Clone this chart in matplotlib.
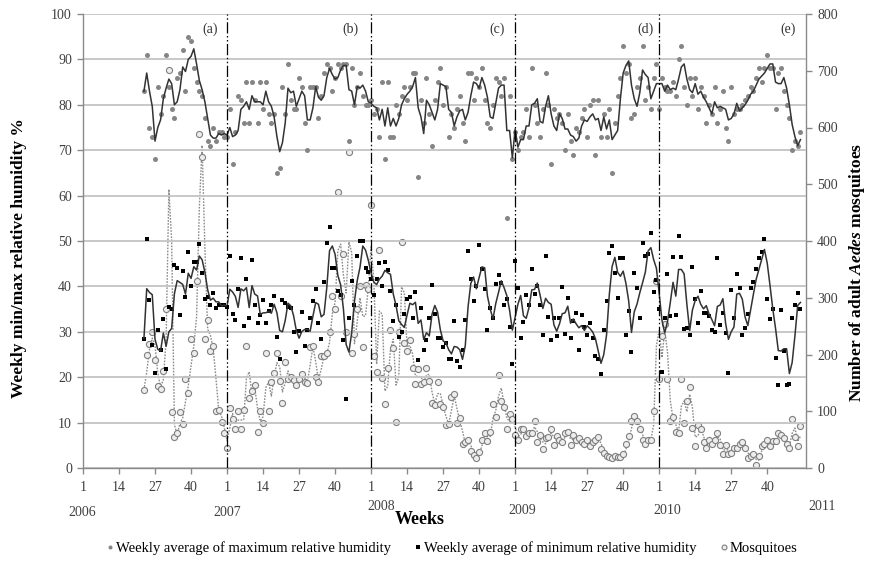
import numpy as np
import pandas as pd
import matplotlib
matplotlib.use("Agg")
import matplotlib.pyplot as plt

plt.rcParams['font.family'] = ['Liberation Serif', 'DejaVu Serif']
plt.rcParams['mathtext.fontset'] = 'custom'
plt.rcParams['mathtext.bfit'] = 'Liberation Serif:bold:italic'
plt.rcParams['mathtext.rm'] = 'Liberation Serif'

# weekly average of maximum relative humidity (%), first value is week 23 of 2006
max_2006 = [83, 91, 75, 73, 68, 84, 78, 82, 91, 84, 79, 77, 86, 87, 92, 83, 95, 94, 88, 85,
            83, 82, 77, 72, 71, 75, 72, 74, 74, 73]
max_2007 = [73, 79, 67, 74, 82, 81, 76, 85, 76, 85, 81, 76, 85, 79, 85, 78, 76, 78, 65, 66,
            84, 78, 89, 81, 79, 79, 86, 84, 76, 70, 84, 84, 84, 77, 82, 87, 89, 88, 83, 86,
            89, 88, 89, 89, 72, 88, 80, 84, 87, 82, 80, 80]
max_2008 = [81, 78, 79, 73, 85, 68, 85, 73, 73, 80, 78, 82, 84, 81, 84, 87, 87, 64, 81, 76,
            86, 78, 71, 81, 85, 88, 80, 84, 73, 78, 75, 79, 82, 76, 72, 87, 87, 81, 86, 84,
            88, 81, 76, 75, 80, 86, 85, 82, 86, 55, 82, 68]
max_2009 = [74, 70, 73, 74, 79, 73, 88, 80, 76, 73, 79, 87, 80, 67, 79, 77, 78, 76, 70, 78,
            72, 69, 75, 74, 77, 79, 73, 80, 81, 69, 81, 73, 78, 73, 79, 65, 76, 82, 86, 93,
            87, 89, 77, 78, 84, 86, 93, 81, 84, 79, 86, 89]
max_2010 = [79, 86, 84, 83, 83, 85, 82, 90, 93, 84, 80, 86, 82, 86, 79, 84, 82, 76, 80, 78,
            84, 76, 79, 83, 75, 72, 84, 78, 79, 79, 80, 81, 82, 84, 83, 86, 88, 85, 88, 91,
            88, 88, 79, 87, 88, 83, 80, 77, 70, 72, 71, 74]

# weekly average of minimum relative humidity (%)
min_2006 = [28.5, 50.5, 37, 27, 21, 30.4, 26, 32.8, 21.7, 35.5, 35, 44.7, 44.1, 33.8, 43.4,
            37.7, 47.6, 40, 45.4, 45.4, 49.3, 42.9, 37.2, 37.7, 36, 38.5, 35.3, 36, 35.8, 35.8]
min_2007 = [35.5, 46.8, 34, 32.6, 39.5, 46.3, 31.3, 41.6, 33.1, 45.8, 36, 31.9, 33.6, 37, 32,
            34.5, 35.8, 37.9, 28.9, 24.1, 37, 36.4, 35.5, 35.3, 30, 25.6, 30.2, 34.4, 26.9, 30.4,
            33.1, 36.8, 39.4, 32, 28.5, 41, 49.6, 53, 44.1, 44.1, 39, 38, 28.3, 15.3, 33,
            41.2, 36, 46.7, 50, 50, 44, 43.2]
min_2008 = [41.6, 38, 41.6, 45.2, 40, 45.4, 43.6, 39, 32.4, 36, 28.9, 30, 34, 37.2, 37.7,
            33, 38.8, 23.8, 35.2, 26, 28.2, 33.1, 40.3, 34, 28.7, 28.6, 26.7, 27.5, 24, 23.9,
            32.4, 23.6, 22.2, 26, 32.6, 47.8, 41.6, 36.8, 40, 49.1, 43.8, 39.4, 30.4, 35.2, 33,
            40.5, 42.5, 40.7, 36, 37.2, 31, 22.9]
min_2009 = [45.6, 39.7, 28.7, 32.2, 38, 35.8, 43.9, 38.3, 40, 36, 29.4, 46.7, 33.3, 28.2, 33.1,
            29.1, 33, 39.9, 29.6, 37.4, 28.7, 32.4, 34.2, 26.1, 33.8, 31, 29.2, 32, 28.7, 24.7,
            23.9, 20.6, 30.5, 36.8, 47.4, 48.9, 42.9, 37.5, 46.3, 46.3, 29.4, 34.6, 25.6, 43,
            39.7, 33.1, 49.6, 46.7, 47.1, 51.8, 38.8, 41.4]
min_2010 = [35.1, 21.1, 33, 42.7, 33.5, 46.5, 33.6, 51.1, 46.5, 30.7, 30.9, 29.2, 44.3, 37.2, 32,
            39, 34.2, 34.1, 33.5, 30.5, 30, 46.3, 31.4, 34.2, 29.8, 21, 39.2, 33, 42.7, 39.7,
            29.2, 30.9, 34, 39.7, 41, 43.9, 46.3, 47.6, 50.5, 37.3, 32.9, 35.1, 24.3, 18.2, 34.8,
            25.8, 18.2, 18.4, 33.1, 35.8, 38.5, 35.1]

# number of adult Aedes mosquitoes
mosq_2006 = [138, 200, 218, 240, 191, 144, 140, 171, 280, 702, 99, 55, 61, 98, 78, 156, 133,
             228, 203, 330, 589, 548, 228, 261, 206, 215, 101, 102, 81, 61]
mosq_2007 = [36, 105, 87, 68, 101, 68, 102, 215, 124, 136, 147, 64, 101, 80, 203, 101, 152,
             168, 203, 154, 114, 186, 156, 160, 155, 146, 156, 165, 152, 150, 213, 215, 160,
             151, 197, 198, 203, 240, 303, 280, 486, 303, 377, 240, 557, 202, 236, 280, 320,
             214, 322, 316]
mosq_2008 = [464, 197, 169, 384, 158, 113, 176, 243, 211, 81, 240, 398, 220, 206, 226, 176,
             148, 174, 148, 152, 176, 154, 114, 111, 151, 112, 107, 76, 78, 125, 130, 79, 88,
             42, 46, 50, 30, 23, 18, 28, 50, 62, 48, 63, 113, 89, 164, 118, 107, 69, 95, 86]
mosq_2009 = [59, 50, 68, 68, 56, 62, 62, 83, 45, 59, 33, 52, 55, 68, 40, 56, 50, 46, 62, 63,
             40, 59, 50, 52, 46, 42, 50, 38, 45, 50, 54, 33, 26, 21, 20, 18, 21, 19, 19, 24,
             42, 56, 83, 92, 83, 68, 50, 42, 50, 50, 101, 330]
mosq_2010 = [156, 233, 253, 156, 83, 89, 64, 62, 156, 80, 118, 142, 71, 38, 75, 68, 45, 36,
             50, 42, 50, 62, 40, 24, 40, 24, 27, 36, 36, 42, 46, 36, 18, 21, 24, 6, 22, 38, 42,
             50, 38, 47, 47, 62, 59, 52, 42, 36, 86, 55, 38, 74]

week_labels = ['1', '14', '27', '40']
years = ['2006', '2007', '2008', '2009', '2010', '2011']
panels = ['(a)', '(b)', '(c)', '(d)', '(e)']

max_rh = np.concatenate([max_2006, max_2007, max_2008, max_2009, max_2010])
min_rh = np.concatenate([min_2006, min_2007, min_2008, min_2009, min_2010])
mosq = np.concatenate([mosq_2006, mosq_2007, mosq_2008, mosq_2009, mosq_2010])
weeks = np.arange(22, 22 + len(max_rh))  # weeks counted from week 1 of 2006

max_ma = pd.Series(max_rh).rolling(3, min_periods=1).mean()
min_ma = pd.Series(min_rh).rolling(3, min_periods=1).mean()
mosq_ma = pd.Series(mosq).rolling(2, min_periods=1).mean()

W, H = 869, 562
fig = plt.figure(figsize=(W / 100, H / 100), dpi=100)
ax = fig.add_axes([83 / W, 1 - 468 / H, 723 / W, 454 / H])
ax2 = ax.twinx()
ax.set_zorder(ax2.get_zorder() + 1)
ax.patch.set_visible(False)

grey = '#8a8a8a'
txt = '#404040'

# mosquitoes on the right axis
ax2.plot(weeks, mosq_ma, color='#8c8c8c', lw=1.0, ls=(0, (1.2, 1.0)), zorder=2)
h_mosq, = ax2.plot(weeks, mosq, 'o', ms=4.4, mfc='#ededed', mec='#7f7f7f', mew=0.8, zorder=3,
                   label='Mosquitoes')

h_max, = ax.plot(weeks, max_rh, 'o', ms=3.6, mfc='#858585', mec='#858585', mew=0, zorder=3,
                 label='Weekly average of maximum relative humidity')
ax.plot(weeks, max_ma, color='#333333', lw=1.1, zorder=4)
h_min, = ax.plot(weeks, min_rh, 's', ms=3.0, mfc='black', mec='black', mew=0, zorder=3,
                 label='Weekly average of minimum relative humidity')
ax.plot(weeks, min_ma, color='#333333', lw=1.1, zorder=4)

for k in range(1, 5):
    ax.axvline(52 * k, color='black', lw=0.9, ls=(0, (9, 2, 1.2, 2, 1.2, 2)), zorder=5)

for k, p in enumerate(panels):
    ax.text([46, 96.5, 149.5, 203, 254.5][k], 96.6, p, ha='center', va='center',
            fontsize=10, color='#333333')

ax.set_xlim(0, 261)
ax.set_ylim(0, 100)
ax2.set_ylim(0, 800)
ax.set_yticks(np.arange(0, 101, 10))
ax2.set_yticks(np.arange(0, 801, 100))
ticks = [52 * k + d for k in range(5) for d in (0, 13, 26, 39)]
ax.set_xticks(ticks)
ax.set_xticklabels(week_labels * 5)
ax.yaxis.grid(True, color='#c4c4c4', lw=1.3)
ax.set_axisbelow(True)

for a in (ax, ax2):
    a.spines['top'].set_visible(False)
    for s in ('left', 'right', 'bottom'):
        a.spines[s].set_color(grey)
        a.spines[s].set_linewidth(1.0)
    a.tick_params(colors=grey, labelcolor=txt, labelsize=10, length=4.5, width=1.0)
ax.spines['right'].set_visible(False)
ax2.spines['left'].set_visible(False)
ax2.spines['bottom'].set_visible(False)
ax.tick_params(axis='x', pad=5)

# year labels under the week ticks
year_x = [82, 227, 381, 522, 667, 822]
year_y = [512, 512, 507, 510, 510, 507]
for yr, x, y in zip(years, year_x, year_y):
    fig.text(x / W, 1 - y / H, yr, ha='center', va='center', fontsize=10, color=txt)

fig.text(420 / W, 1 - 520 / H, 'Weeks', ha='center', va='center', fontsize=13,
         fontweight='bold')
fig.text(19 / W, 1 - 258 / H, 'Weekly min/max relative humidity %', rotation=90,
         ha='center', va='center', fontsize=12.5, fontweight='bold')
fig.text(857 / W, 1 - 272 / H, r'Number of adult $\mathbfit{Aedes}$ mosquitoes', rotation=90,
         ha='center', va='center', fontsize=12.5, fontweight='bold')

fig.legend(handles=[h_max, h_min, h_mosq], loc='center', bbox_to_anchor=(452 / W, 1 - 548 / H),
           ncol=3, frameon=False, fontsize=10.5, markerscale=0.8, handlelength=0.5,
           handletextpad=0.15, columnspacing=1.6)

fig.savefig('out.png', dpi=100)
